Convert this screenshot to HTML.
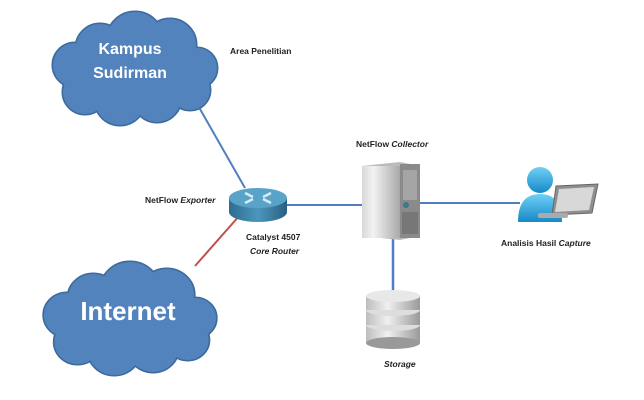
<!DOCTYPE html>
<html><head><style>
body{margin:0;background:#fff;}
svg{display:block;font-family:"Liberation Sans",sans-serif;}
</style></head><body>
<svg width="644" height="400" viewBox="0 0 644 400">
<defs>
<linearGradient id="rt" x1="0" y1="0" x2="1" y2="0"><stop offset="0" stop-color="#2f6c8f"/><stop offset="0.5" stop-color="#4b97bd"/><stop offset="1" stop-color="#2a5f80"/></linearGradient>
<linearGradient id="sv" x1="0" y1="0" x2="1" y2="0"><stop offset="0" stop-color="#d8d8d8"/><stop offset="0.3" stop-color="#f2f2f2"/><stop offset="1" stop-color="#a9a9a9"/></linearGradient>
<linearGradient id="ps" x1="0" y1="0" x2="0" y2="1"><stop offset="0" stop-color="#6fd0f5"/><stop offset="1" stop-color="#1689c7"/></linearGradient>
<linearGradient id="db" x1="0" y1="0" x2="1" y2="0"><stop offset="0" stop-color="#bdbdbd"/><stop offset="0.4" stop-color="#f0f0f0"/><stop offset="1" stop-color="#9a9a9a"/></linearGradient>
<g id="cl">
<circle cx="0" cy="0" r="28"/><circle cx="-35" cy="8" r="24"/><circle cx="35" cy="5" r="26"/><circle cx="-60" cy="25" r="22"/><circle cx="62" cy="28" r="20"/><circle cx="-50" cy="52" r="22"/><circle cx="-15" cy="60" r="25"/><circle cx="22" cy="58" r="24"/><circle cx="55" cy="50" r="20"/><rect x="-60" y="10" width="120" height="45"/>
</g>
</defs>
<!-- lines -->
<line x1="192" y1="95" x2="245" y2="188" stroke="#4f7fc0" stroke-width="2"/>
<line x1="240" y1="215" x2="195" y2="266" stroke="#c0504d" stroke-width="2"/>
<line x1="285" y1="205" x2="365" y2="205" stroke="#4f7fc0" stroke-width="2"/>
<line x1="418" y1="203" x2="520" y2="203" stroke="#4f7fc0" stroke-width="2"/>
<line x1="393" y1="232" x2="393" y2="292" stroke="#4f7fc0" stroke-width="2.5"/>
<!-- clouds -->
<g transform="translate(135,40)"><use href="#cl" fill="#3d6a9c" stroke="#3d6a9c" stroke-width="3"/><use href="#cl" fill="#5383bd"/></g>
<g transform="translate(130,290) scale(1.05,1)"><use href="#cl" fill="#3d6a9c" stroke="#3d6a9c" stroke-width="3"/><use href="#cl" fill="#5383bd"/></g>
<text x="130" y="54" font-size="16" font-weight="bold" fill="#fff" text-anchor="middle">Kampus</text>
<text x="130" y="78" font-size="16" font-weight="bold" fill="#fff" text-anchor="middle">Sudirman</text>
<text x="128" y="320" font-size="26" font-weight="bold" fill="#fff" text-anchor="middle">Internet</text>
<!-- router -->
<path d="M229,198 v14 a29,10 0 0 0 58,0 v-14 z" fill="url(#rt)"/>
<ellipse cx="258" cy="198" rx="29" ry="10" fill="#5aa3c8"/>
<g stroke="#d8ecf5" stroke-width="2.5" fill="none"><path d="M245,193 l8,4 M271,193 l-8,4 M245,203 l8,-4 M271,203 l-8,-4"/></g>
<!-- server -->
<polygon points="362,166 400,162 420,166 420,236 400,240 362,236" fill="#bbb"/>
<rect x="362" y="166" width="38" height="72" fill="url(#sv)"/>
<rect x="400" y="164" width="20" height="74" fill="#8a8a8a"/>
<rect x="403" y="170" width="14" height="30" fill="#a5a5a5"/>
<circle cx="406" cy="205" r="3" fill="#3a7a8a"/>
<rect x="402" y="212" width="16" height="22" fill="#777"/>
<!-- person -->
<circle cx="540" cy="180" r="13" fill="url(#ps)"/>
<path d="M518,222 q0,-28 22,-28 q22,0 22,28 z" fill="url(#ps)"/>
<polygon points="556,186 598,184 592,213 552,215" fill="#8f8f8f" stroke="#666"/>
<polygon points="559,189 594,187 589,210 555,212" fill="#d8d8d8"/>
<rect x="538" y="213" width="30" height="5" rx="2" fill="#aaa"/>
<!-- storage -->
<g>
<rect x="366" y="325" width="54" height="18" fill="url(#db)"/><ellipse cx="393" cy="343" rx="27" ry="6" fill="#999"/><ellipse cx="393" cy="325" rx="27" ry="6" fill="#ddd"/>
<rect x="366" y="310" width="54" height="15" fill="url(#db)"/><ellipse cx="393" cy="310" rx="27" ry="6" fill="#ddd"/>
<rect x="366" y="296" width="54" height="14" fill="url(#db)"/><ellipse cx="393" cy="296" rx="27" ry="6" fill="#e8e8e8"/>
</g>
<!-- labels -->
<g font-size="8.5" font-weight="bold" fill="#222">
<text x="230" y="54">Area Penelitian</text>
<text x="145" y="203">NetFlow <tspan font-style="italic">Exporter</tspan></text>
<text x="246" y="240">Catalyst 4507</text>
<text x="250" y="254" font-style="italic">Core Router</text>
<text x="356" y="147">NetFlow <tspan font-style="italic">Collector</tspan></text>
<text x="501" y="246">Analisis Hasil <tspan font-style="italic">Capture</tspan></text>
<text x="384" y="367" font-style="italic">Storage</text>
</g>
</svg>
</body></html>
